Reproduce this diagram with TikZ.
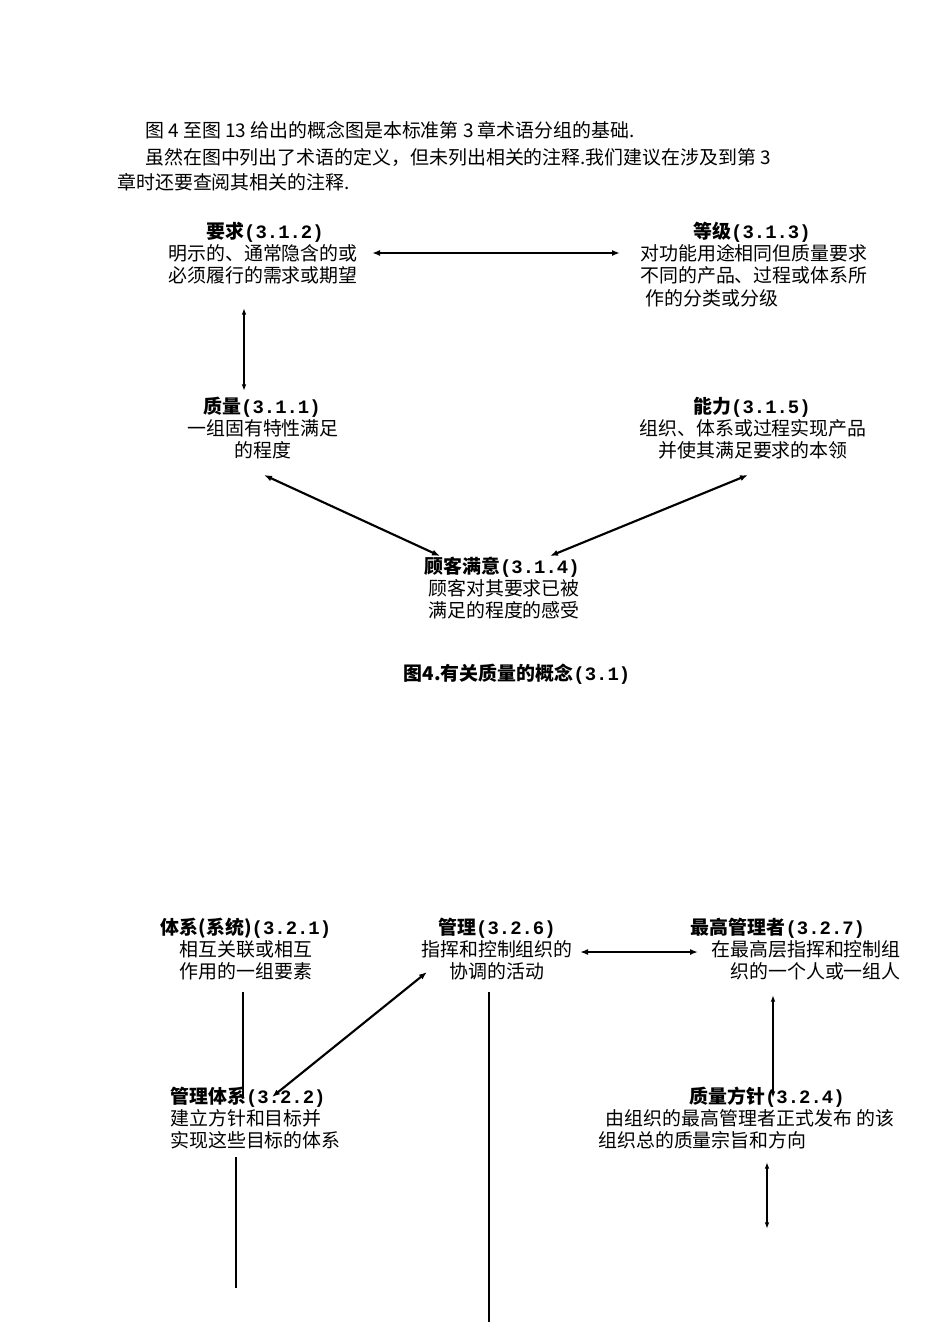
\documentclass[tikz,border=0pt]{standalone}
\usepackage{fontspec}
\setmainfont{Noto Sans CJK SC}
\newfontfamily\latn{Liberation Mono}
\usetikzlibrary{arrows.meta}
\newcommand{\nm}[1]{{\latn\bfseries #1}}
\begin{document}
\begin{tikzpicture}[x=0.75pt,y=-0.75pt,
  ttl/.style={font=\fontsize{14.2}{17}\selectfont\bfseries,inner sep=0pt},
  body/.style={font=\fontsize{14.2}{16.8}\selectfont,inner sep=0pt,align=center},
  par/.style={font=\fontsize{14.2}{16.8}\selectfont,inner sep=0pt,anchor=west},
  conn/.style={line width=1.6pt},
  dbl/.style={conn,{Latex[length=6pt,width=4.5pt]}-{Latex[length=6pt,width=4.5pt]}},
  thin/.style={line width=1.1pt,{Latex[length=5pt,width=3.5pt]}-{Latex[length=5pt,width=3.5pt]}}]
\useasboundingbox[fill=white] (0,0) rectangle (950,1344);
\node[par] (p1) at (145,130) {图 4 至图 13 给出的概念图是本标准第 3 章术语分组的基础.};
\node[par] (p2) at (145,157) {虽然在图中列出了术语的定义，但未列出相关的注释.我们建议在涉及到第 3};
\node[par] (p3) at (117,182) {章时还要查阅其相关的注释.};
% top diagram
\node[ttl] (t1) at (265,232) {要求\nm{(3.1.2)}};
\node[body,anchor=north] (b1) at (263,244) {明示的、通常隐含的或\\必须履行的需求或期望};
\node[ttl] (t2) at (752,232) {等级\nm{(3.1.3)}};
\node[body,anchor=north west,align=left] (b2) at (640,244) {对功能用途相同但质量要求\\不同的产品、过程或体系所\\\hspace{0.3em}作的分类或分级};
\node[ttl] (t3) at (262,407) {质量\nm{(3.1.1)}};
\node[body,anchor=north] (b3) at (263,419) {一组固有特性满足\\的程度};
\node[ttl] (t4) at (752,407) {能力\nm{(3.1.5)}};
\node[body,anchor=north] (b4) at (753,419) {组织、体系或过程实现产品\\并使其满足要求的本领};
\node[ttl] (t5) at (502,567) {顾客满意\nm{(3.1.4)}};
\node[body,anchor=north] (b5) at (504,579) {顾客对其要求已被\\满足的程度的感受};
\node[ttl] (cap) at (517,674) {图4.有关质量的概念\nm{(3.1)}};
\coordinate (a1) at (372,253); \coordinate (a2) at (620,253);
\coordinate (v1) at (244,308); \coordinate (v2) at (244,391);
\coordinate (q1) at (264,475); \coordinate (q2) at (440,556);
\coordinate (c1) at (748,475); \coordinate (c2) at (550,556);
\draw[dbl] (a1) -- (a2);
\draw[thin] (v1) -- (v2);
\draw[dbl] (q1) -- (q2);
\draw[dbl] (c1) -- (c2);
% bottom diagram
\node[ttl] (s1) at (246,928) {体系(系统)\nm{(3.2.1)}};
\node[body,anchor=north] (sb1) at (246,940) {相互关联或相互\\作用的一组要素};
\node[ttl] (s2) at (497,928) {管理\nm{(3.2.6)}};
\node[body,anchor=north] (sb2) at (497,940) {指挥和控制组织的\\协调的活动};
\node[ttl] (s3) at (778,928) {最高管理者\nm{(3.2.7)}};
\node[body,anchor=north east,align=right] (sb3) at (901,940) {在最高层指挥和控制组\\织的一个人或一组人};
\node[ttl,anchor=west] (s4) at (170,1097) {管理体系\nm{(3.2.2)}};
\node[body,anchor=north west,align=left] (sb4) at (170,1109) {建立方针和目标并\\实现这些目标的体系};
\node[ttl] (s5) at (767,1097) {质量方针\nm{(3.2.4)}};
\node[body,anchor=north west,align=left] (sb5) at (598,1109) {\hspace{0.4em}由组织的最高管理者正式发布\ 的该\\组织总的质量宗旨和方向};
\coordinate (l1a) at (243,992); \coordinate (l1b) at (243,1097);
\coordinate (d1) at (427,972); \coordinate (d2) at (272,1097);
\coordinate (h1) at (580,952); \coordinate (h2) at (698,952);
\coordinate (m1) at (489,992); \coordinate (m2) at (489,1322);
\coordinate (r1) at (773,995); \coordinate (r2) at (773,1098);
\coordinate (k1) at (236,1157); \coordinate (k2) at (236,1288);
\coordinate (e1) at (767,1162); \coordinate (e2) at (767,1229);
\draw[conn] (l1a) -- (l1b);
\draw[dbl] (d1) -- (d2);
\draw[dbl] (h1) -- (h2);
\draw[conn] (m1) -- (m2);
\draw[thin] (r1) -- (r2);
\draw[conn] (k1) -- (k2);
\draw[thin] (e1) -- (e2);
\end{tikzpicture}
\end{document}
